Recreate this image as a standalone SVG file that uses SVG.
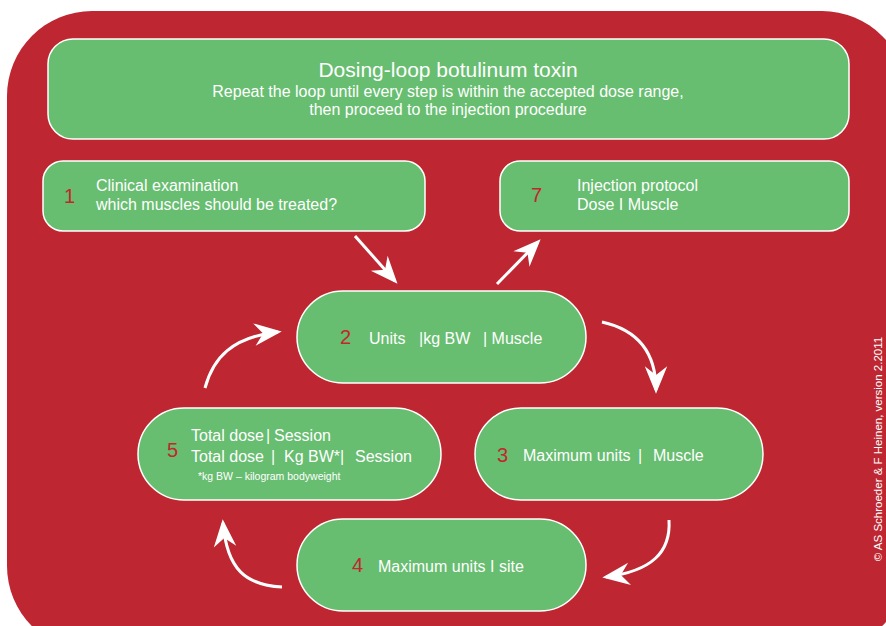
<svg xmlns="http://www.w3.org/2000/svg" width="886" height="626" viewBox="0 0 886 626">
<style>
.box{fill:#67BD70;stroke:#FFFFFF;stroke-width:1.5}
.t{font-family:"Liberation Sans",Arial,sans-serif;fill:#FFFFFF;font-size:16px}
.n{font-family:"Liberation Sans",Arial,sans-serif;fill:#C1272D;font-size:20px}
.c{fill:none;stroke:#FFFFFF;stroke-width:3}
</style>
<defs>
<marker id="ah" markerUnits="userSpaceOnUse" markerWidth="40" markerHeight="40" viewBox="-25 -12 32 24" refX="0" refY="0" orient="auto" overflow="visible">
<path d="M3,0 L-19,-9 L-12,0 L-19,9 Z" fill="#FFFFFF"/>
</marker>
</defs>
<rect x="0" y="0" width="886" height="626" fill="#FFFFFF"/>
<rect x="7" y="11" width="900" height="640" rx="85" ry="85" fill="#BE2631"/>
<text class="t" transform="translate(882,449) rotate(-90)" text-anchor="middle" style="font-size:11.5px">© AS Schroeder &amp; F Heinen, version 2.2011</text>

<g id="header">
<rect class="box" x="48" y="39" width="801" height="100" rx="25"/>
<text class="t" x="448" y="77" text-anchor="middle" style="font-size:21px">Dosing-loop botulinum toxin</text>
<text class="t" x="448" y="97" text-anchor="middle">Repeat the loop until every step is within the accepted dose range,</text>
<text class="t" x="448" y="115" text-anchor="middle">then proceed to the injection procedure</text>
</g>

<g id="node1">
<rect class="box" x="43" y="161" width="382" height="70" rx="20"/>
<text class="n" x="64" y="203">1</text>
<text class="t" x="96" y="191">Clinical examination</text>
<text class="t" x="96" y="210">which muscles should be treated?</text>
</g>

<g id="node7">
<rect class="box" x="500" y="161" width="349" height="70" rx="20"/>
<text class="n" x="531" y="202">7</text>
<text class="t" x="577" y="191">Injection protocol</text>
<text class="t" x="577" y="210">Dose I Muscle</text>
</g>

<g id="node2">
<rect class="box" x="297" y="291" width="289" height="92" rx="46"/>
<text class="n" x="340" y="344">2</text>
<text class="t" y="344"><tspan x="369">Units</tspan><tspan x="419">|kg BW</tspan><tspan x="483">| Muscle</tspan></text>
</g>

<g id="node3">
<rect class="box" x="475" y="408" width="288" height="92" rx="46"/>
<text class="n" x="497" y="462">3</text>
<text class="t" y="461"><tspan x="523">Maximum units</tspan><tspan x="638">|</tspan><tspan x="653">Muscle</tspan></text>
</g>

<g id="node4">
<rect class="box" x="297" y="519" width="289" height="92" rx="46"/>
<text class="n" x="352" y="572">4</text>
<text class="t" x="378" y="572">Maximum units I site</text>
</g>

<g id="node5">
<rect class="box" x="138" y="408" width="303" height="92" rx="46"/>
<text class="n" x="167" y="457">5</text>
<text class="t" y="441"><tspan x="191">Total dose</tspan><tspan x="266">|</tspan><tspan x="274">Session</tspan></text>
<text class="t" y="462"><tspan x="191">Total dose</tspan><tspan x="271">|</tspan><tspan x="284">Kg BW*|</tspan><tspan x="355">Session</tspan></text>
<text class="t" x="198" y="480" style="font-size:10.5px">*kg BW – kilogram bodyweight</text>
</g>

<g id="connectors">
<path class="c" marker-end="url(#ah)" d="M355,236 L395,281"/>
<path class="c" marker-end="url(#ah)" d="M497,284 L538,242"/>
<path class="c" marker-end="url(#ah)" d="M205,388 C213,358 232,337 278,332"/>
<path class="c" marker-end="url(#ah)" d="M602,322 C638,330 656,352 656,390"/>
<path class="c" marker-end="url(#ah)" d="M669,520 C671,552 652,571 606,577"/>
<path class="c" marker-end="url(#ah)" d="M282,587 C246,585 227,570 223,523"/>
</g>
</svg>
